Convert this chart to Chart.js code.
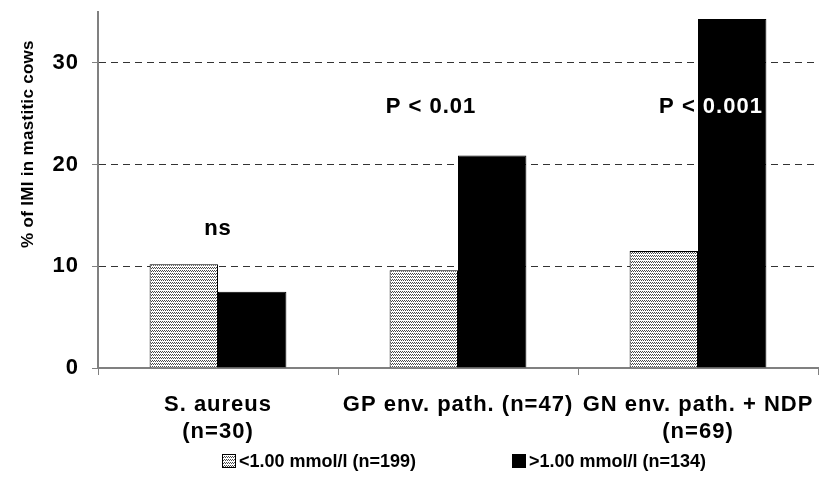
<!DOCTYPE html>
<html>
<head>
<meta charset="utf-8">
<script src="https://cdn.jsdelivr.net/npm/chart.js@4/dist/chart.umd.min.js"></script>
<style>
  html, body { margin: 0; padding: 0; background: #fff; }
  #wrap { width: 819px; height: 499px; }
</style>
</head>
<body>
<div id="wrap"><canvas id="c" width="819" height="499"></canvas></div>
<script>
// Categories (pathogen groups) and IMI percentages per BHBA group
const categories = [['S. aureus', '(n=30)'], 'GP env. path. (n=47)', ['GN env. path. + NDP', '(n=69)']];
const seriesLabels = ['<1.00 mmol/l (n=199)', '>1.00 mmol/l (n=134)'];
const lowBHBA = [10.2, 9.6, 11.5];
const highBHBA = [7.5, 20.9, 34.3];
const yTicks = [0, 10, 20, 30];
const yTitle = '% of IMI in mastitic cows';
// Significance labels, placed by category and value
const sigLabels = ['ns', 'P < 0.01', 'P < 0.001'];
const sigValues = [13.7, 25.7, 25.7];

const FONT = "'Liberation Sans', Arial, sans-serif";

// Fine zig-zag hatch used for the low-BHBA bars
function makeHatch() {
  const c = document.createElement('canvas');
  c.width = 4; c.height = 3;
  const g = c.getContext('2d');
  g.fillStyle = '#fff';
  g.fillRect(0, 0, 4, 3);
  g.fillStyle = '#4a4a4a';
  [[0,0],[1,1],[2,0],[3,1]].forEach(([x, y]) => g.fillRect(x, y, 1, 1));
  return g.createPattern(c, 'repeat');
}
const ctx0 = document.getElementById('c').getContext('2d');
const hatch = makeHatch();

const extras = {
  id: 'extras',
  beforeDraw(chart) {
    const ctx = chart.ctx;
    ctx.save();
    ctx.fillStyle = '#fff';
    ctx.fillRect(0, 0, chart.width, chart.height);
    ctx.restore();
    ctx.letterSpacing = '1px';
  },
  afterDraw(chart) {
    const ctx = chart.ctx;
    const x = chart.scales.x, y = chart.scales.y;
    // significance labels: inverted where they cross a dark bar
    const offsets = [0, -27, 13];
    ctx.save();
    ctx.letterSpacing = '1px';
    ctx.font = `bold 22px ${FONT}`;
    ctx.textAlign = 'center';
    ctx.textBaseline = 'middle';
    ctx.globalCompositeOperation = 'difference';
    ctx.fillStyle = '#fff';
    sigLabels.forEach((t, i) => {
      ctx.fillText(t, x.getPixelForValue(i) + offsets[i], y.getPixelForValue(sigValues[i]));
    });
    ctx.restore();

    // y-axis title
    ctx.save();
    ctx.letterSpacing = '0.3px';
    ctx.font = `bold 17px ${FONT}`;
    ctx.fillStyle = '#000';
    ctx.textAlign = 'center';
    ctx.textBaseline = 'middle';
    ctx.translate(28, 144);
    ctx.rotate(-Math.PI / 2);
    ctx.fillText(yTitle, 0, 0);
    ctx.restore();

    // legend
    ctx.save();
    ctx.letterSpacing = '0px';
    ctx.font = `bold 18px ${FONT}`;
    ctx.textBaseline = 'middle';
    ctx.textAlign = 'left';
    const ly = 461;
    const boxes = [222, 512];
    chart.data.datasets.forEach((ds, i) => {
      const bx = boxes[i];
      ctx.fillStyle = ds.backgroundColor;
      ctx.fillRect(bx, ly - 7, 14, 14);
      ctx.strokeStyle = '#000';
      ctx.lineWidth = 1;
      ctx.strokeRect(bx + 0.5, ly - 6.5, 13, 13);
      ctx.fillStyle = '#000';
      ctx.fillText(ds.label, bx + 17, ly + 1);
    });
    ctx.restore();
  }
};

function noPad(s) {
  s.paddingTop = 0; s.paddingBottom = 0; s.paddingLeft = 0; s.paddingRight = 0;
}

new Chart(ctx0, {
  type: 'bar',
  data: {
    labels: categories,
    datasets: [
      { label: seriesLabels[0], data: lowBHBA, backgroundColor: hatch, borderColor: '#000', borderWidth: 1 },
      { label: seriesLabels[1], data: highBHBA, backgroundColor: '#000', borderColor: '#000', borderWidth: 1 }
    ]
  },
  options: {
    responsive: false,
    animation: false,
    devicePixelRatio: 1,
    layout: { padding: { top: 12, right: 1, bottom: 0, left: 0 } },
    datasets: { bar: { barPercentage: 1, categoryPercentage: 0.57 } },
    plugins: { legend: { display: false }, tooltip: { enabled: false } },
    scales: {
      x: {
        afterFit(s) { s.height = 131; noPad(s); },
        border: { color: '#808080', width: 2 },
        grid: { drawOnChartArea: false, tickLength: 7, tickColor: '#808080', tickWidth: 1 },
        ticks: {
          autoSkip: false, maxRotation: 0, minRotation: 0, padding: 16, color: '#000',
          font: { family: FONT, size: 22, weight: 'bold', lineHeight: 1.23 }
        }
      },
      y: {
        min: 0, max: 35,
        afterFit(s) { s.width = 98; noPad(s); },
        afterBuildTicks(s) { s.ticks = yTicks.map(v => ({ value: v })); },
        border: { color: '#808080', width: 2, dash: [7, 5] },
        grid: {
          color: c => (c.tick && c.tick.value === 0) ? 'rgba(0,0,0,0)' : '#333',
          lineWidth: 1,
          tickLength: 6, tickColor: '#808080', tickBorderDash: []
        },
        ticks: {
          padding: 13, color: '#000',
          font: { family: FONT, size: 22, weight: 'bold' }
        }
      }
    }
  },
  plugins: [extras]
});
</script>
</body>
</html>
